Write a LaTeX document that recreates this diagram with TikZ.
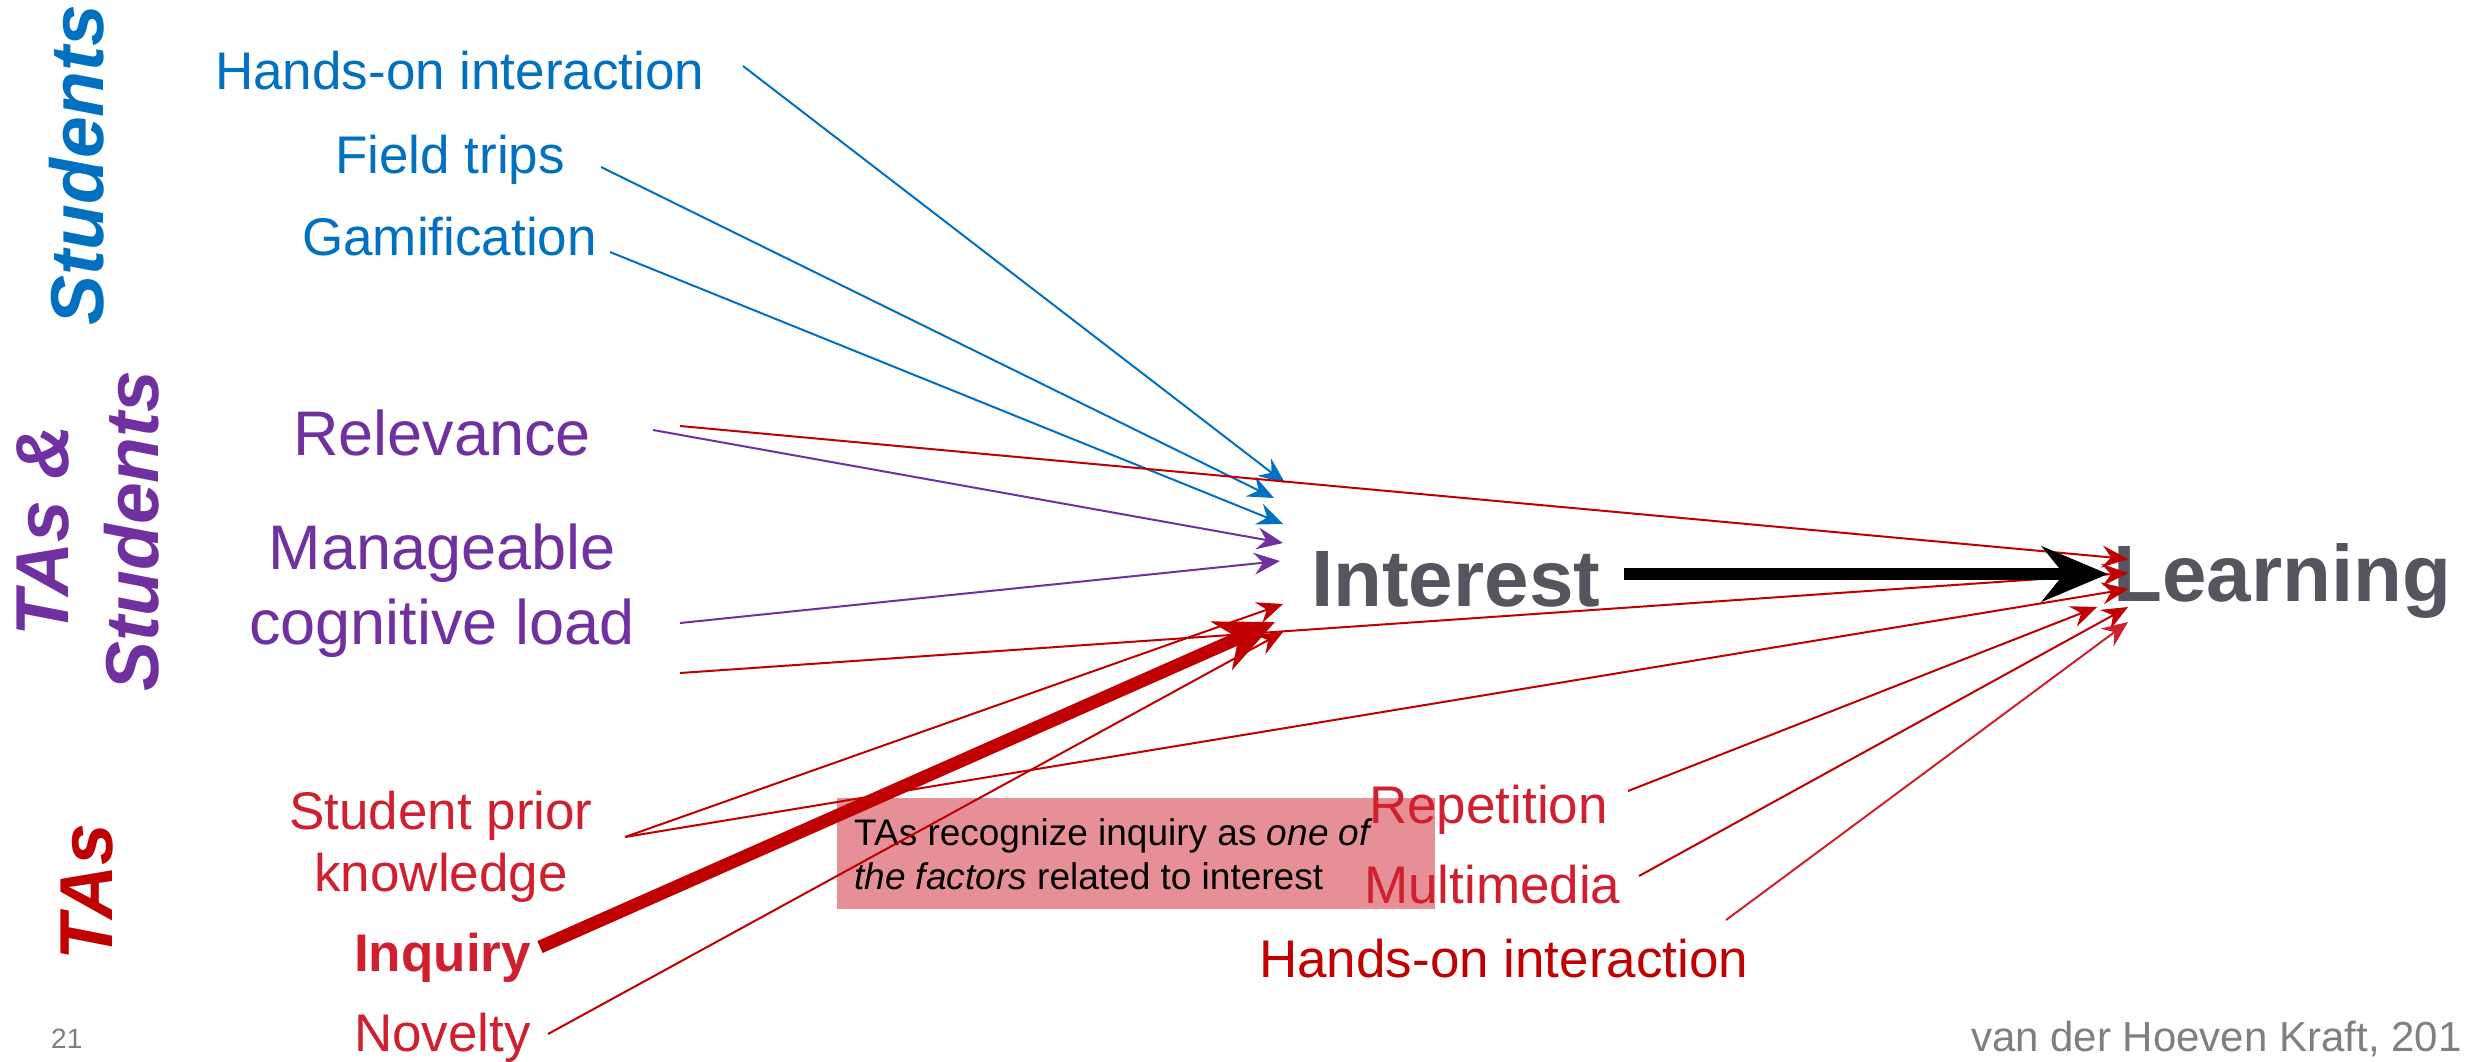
\documentclass[tikz,border=0pt]{standalone}
\usepackage{fontspec}
\setmainfont{Liberation Sans}
\usetikzlibrary{arrows.meta}
\definecolor{cblue}{HTML}{0070C0}
\definecolor{cpurple}{HTML}{7030A0}
\definecolor{cred}{HTML}{C00000}
\definecolor{ctred}{HTML}{D0202F}
\definecolor{cgray}{HTML}{57535F}
\definecolor{cbox}{HTML}{E68F96}
\definecolor{cfoot}{HTML}{7F7F7F}
\newcommand\fsz[2]{\fontsize{#1}{#2}\selectfont}
\tikzset{
  lbl/.style={inner sep=0pt, anchor=base west},
  lblc/.style={inner sep=0pt, anchor=base},
  side/.style={inner sep=0pt, rotate=90, align=center, font=\fsz{75}{90}\bfseries\itshape},
  conn/.style={line width=2pt, -{Stealth[length=26pt,width=22pt,inset=9pt]}},
  item/.style={font=\fsz{53}{64}},
  bitem/.style={font=\fsz{53}{64}\bfseries},
  pitem/.style={font=\fsz{63}{75}},
}
\begin{document}
\begin{tikzpicture}[x=1pt,y=-1pt]
\useasboundingbox (0,0) rectangle (2467,1061);
\fill[white] (0,0) rectangle (2467,1061);

% callout box
\node[fill=cbox, inner sep=0pt, minimum width=598pt, minimum height=111pt, anchor=north west] (box) at (837,798) {};
\node[lbl, font=\fsz{37}{44}] (boxA) at (854,845) {TAs recognize inquiry as \textit{one of}};
\node[lbl, font=\fsz{37}{44}] (boxB) at (854,889) {\textit{the factors} related to interest};

% side group labels
\node[side, text=cblue] (gStud) at (77,165) {Students};
\node[side, text=cpurple] (gBoth) at (88,531) {TAs \&\\Students};
\node[side, text=cred] (gTA) at (87,892) {TAs};
\node[lbl, text=cfoot, font=\fsz{28}{32}] (pg) at (51,1048) {21};
\node[lbl, text=cfoot, font=\fsz{42}{50}] (foot) at (1971,1051) {van der Hoeven Kraft, 201};

% student factors
\node[lbl, item, text=cblue] (sHands) at (215,89) {Hands-on interaction};
\node[lbl, item, text=cblue] (sField) at (335,173) {Field trips};
\node[lbl, item, text=cblue] (sGame) at (302,255) {Gamification};

% shared factors
\node[lbl, pitem, text=cpurple] (pRel) at (293,455) {Relevance};
\node[lblc, pitem, text=cpurple] (pManA) at (442,569) {Manageable};
\node[lblc, pitem, text=cpurple] (pManB) at (442,644) {cognitive load};

% TA factors
\node[lblc, item, text=ctred] (tSpkA) at (441,829) {Student prior};
\node[lblc, item, text=ctred] (tSpkB) at (441,891) {knowledge};
\node[lbl, bitem, text=ctred] (tInq) at (354,971) {Inquiry};
\node[lbl, item, text=ctred] (tNov) at (354,1051) {Novelty};
\node[lbl, item, text=ctred] (tRep) at (1369,823) {Repetition};
\node[lbl, item, text=ctred] (tMul) at (1364,903) {Multimedia};
\node[lbl, item, text=cred] (tHands) at (1259,977) {Hands-on interaction};

% outcomes
\node[lbl, font=\fsz{80}{96}\bfseries, text=cgray] (int) at (1311,606) {Interest};
\node[lbl, font=\fsz{80}{96}\bfseries, text=cgray] (lrn) at (2113,601) {Learning};

% start / end points
\coordinate (a1) at (743,66);   \coordinate (e1) at (1285,483);
\coordinate (a2) at (601,167);  \coordinate (e2) at (1274,498);
\coordinate (a3) at (610,252);  \coordinate (e3) at (1283,524);
\coordinate (a4) at (653,430);  \coordinate (e4) at (1283,543);
\coordinate (a5) at (680,623);  \coordinate (e5) at (1280,561);
\coordinate (a6) at (625,837);  \coordinate (e6) at (1283,604);
\coordinate (a7) at (540,947);  \coordinate (e7) at (1275,622);
\coordinate (a8) at (548,1034); \coordinate (e8) at (1283,632);
\coordinate (b1) at (680,426);  \coordinate (f1) at (2128,559);
\coordinate (b2) at (680,673);  \coordinate (f2) at (2128,573);
\coordinate (f3) at (2128,589);
\coordinate (b4) at (1628,791); \coordinate (f4) at (2097,607);
\coordinate (b5) at (1639,876); \coordinate (f5) at (2128,607);
\coordinate (b6) at (1726,920); \coordinate (f6) at (2128,622);
\coordinate (k1) at (1624,574); \coordinate (k2) at (2108,574);

% connectors to Interest
\draw[conn, cblue] (a1) -- (e1);
\draw[conn, cblue] (a2) -- (e2);
\draw[conn, cblue] (a3) -- (e3);
\draw[conn, cpurple] (a4) -- (e4);
\draw[conn, cpurple] (a5) -- (e5);
\draw[conn, cred] (a6) -- (e6);
\draw[cred, line width=13pt, -{Stealth[length=58pt,width=52pt,inset=18pt]}] (a7) -- (e7);
\draw[conn, cred] (a8) -- (e8);
% connectors to Learning
\draw[conn, cred] (b1) -- (f1);
\draw[conn, cred] (b2) -- (f2);
\draw[conn, cred] (a6) -- (f3);
\draw[conn, cred] (b4) -- (f4);
\draw[conn, cred] (b5) -- (f5);
\draw[conn, ctred] (b6) -- (f6);
% main arrow
\draw[black, line width=12pt, -{Stealth[length=66pt,width=55pt,inset=22pt]}] (k1) -- (k2);
\end{tikzpicture}
\end{document}
